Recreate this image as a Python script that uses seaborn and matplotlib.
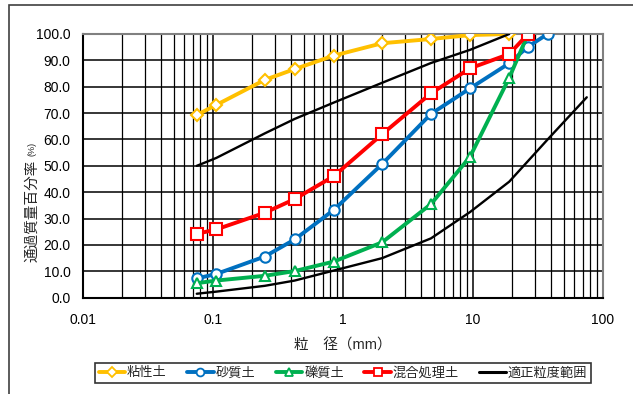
import matplotlib
matplotlib.use("Agg")
import matplotlib.pyplot as plt
import matplotlib.ticker as mticker
from matplotlib.lines import Line2D
from matplotlib.patches import Rectangle
import seaborn as sns
import pandas as pd

# ---- data ----
sieve = [0.075, 0.106, 0.25, 0.425, 0.85, 2, 4.75, 9.5, 19, 26.5, 37.5]

clay_x = [0.075, 0.106, 0.25, 0.425, 0.85, 2, 4.75, 9.5, 19]
clay_y = [69.3, 73.1, 82.6, 86.7, 91.8, 96.5, 98.1, 99.6, 100.0]

sand_x = [0.075, 0.106, 0.25, 0.425, 0.85, 2, 4.75, 9.5, 19, 26.5, 37.5]
sand_y = [7.3, 9.0, 15.6, 22.1, 33.3, 50.7, 69.7, 79.4, 88.9, 95.2, 100.0]

gravel_x = [0.075, 0.106, 0.25, 0.425, 0.85, 2, 4.75, 9.5, 19, 26.5]
gravel_y = [5.5, 6.5, 8.3, 10.1, 13.7, 21.0, 35.5, 53.5, 83.4, 100.0]

mixed_x = [0.075, 0.106, 0.25, 0.425, 0.85, 2, 4.75, 9.5, 19, 26.5]
mixed_y = [24.2, 25.9, 32.2, 37.4, 46.1, 62.0, 77.5, 87.0, 92.4, 100.0]

upper_x = [0.075, 0.106, 0.25, 0.425, 0.85, 2, 4.75, 9.5, 19]
upper_y = [50.0, 53.0, 62.3, 67.8, 74.0, 81.5, 89.0, 94.0, 100.0]

lower_x = [0.075, 0.106, 0.25, 0.425, 0.85, 2, 4.75, 9.5, 19, 37.5, 75]
lower_y = [1.5, 2.3, 4.5, 6.5, 10.3, 15.0, 22.5, 32.5, 44.0, 60.0, 76.0]

labels = ["粘性土", "砂質土", "礫質土", "混合処理土", "適正粒度範囲"]
colors = ["#FFC000", "#0070C0", "#00B050", "#FF0000", "#000000"]
markers = ["D", "o", "^", "s", None]
msizes = [6.5, 7.5, 7.5, 8.5, 0]

xticks = [0.01, 0.1, 1, 10, 100]
yticks = [0, 10, 20, 30, 40, 50, 60, 70, 80, 90, 100]

# ---- style ----
sns.set_theme(style="white")
plt.rcParams["font.family"] = ["Liberation Sans", "Noto Sans CJK JP", "DejaVu Sans"]

fig = plt.figure(figsize=(6.33, 3.94), dpi=100)
ax = fig.add_axes([83/633, 1-297.7/394, 520/633, 263.7/394])

series = [(clay_x, clay_y), (sand_x, sand_y), (gravel_x, gravel_y), (mixed_x, mixed_y)]
for i, (xs, ys) in enumerate(series):
    df = pd.DataFrame({"x": xs, "y": ys})
    sns.lineplot(data=df, x="x", y="y", ax=ax, color=colors[i], lw=2.8,
                 marker=markers[i], markersize=msizes[i], markerfacecolor="white",
                 markeredgecolor=colors[i], markeredgewidth=1.5, sort=False,
                 estimator=None, legend=False, zorder=3+i)
for xs, ys in [(upper_x, upper_y), (lower_x, lower_y)]:
    df = pd.DataFrame({"x": xs, "y": ys})
    sns.lineplot(data=df, x="x", y="y", ax=ax, color="black", lw=1.7,
                 sort=False, estimator=None, legend=False, zorder=8)

ax.set_xscale("log")
ax.set_xlim(0.01, 100)
ax.set_ylim(0, 100)
ax.set_xticks(xticks)
ax.xaxis.set_major_formatter(mticker.FuncFormatter(lambda v, p: f"{v:g}"))
ax.xaxis.set_minor_locator(mticker.LogLocator(base=10, subs=range(2, 10)))
ax.xaxis.set_minor_formatter(mticker.NullFormatter())
ax.set_yticks(yticks)
ax.yaxis.set_major_formatter(mticker.FuncFormatter(lambda v, p: f"{v:.1f}"))
ax.tick_params(axis="both", which="both", length=0, labelsize=10, colors="black")
ax.tick_params(axis="x", pad=11)
ax.tick_params(axis="y", pad=9)

ax.grid(True, which="major", axis="both", color="black", lw=1.1)
ax.grid(True, which="minor", axis="x", color="black", lw=0.9)
ax.set_axisbelow(True)

for s in ["top", "right"]:
    ax.spines[s].set_color("#808080")
    ax.spines[s].set_linewidth(1.5)
for s in ["left", "bottom"]:
    ax.spines[s].set_color("black")
    ax.spines[s].set_linewidth(1.5)

ax.set_xlabel("粒\u3000径（mm）", fontsize=10.5, labelpad=8)
ax.set_ylabel("")
fig.text(32/633, 1-211/394, "通過質量百分率", rotation=90, ha="center", va="center",
         fontsize=10.5)
fig.text(32/633, 1-149/394, "(%)", rotation=90, ha="center", va="center",
         fontsize=6.5)

handles = []
for i in range(5):
    if markers[i] is None:
        handles.append(Line2D([], [], color="black", lw=2.2))
    else:
        handles.append(Line2D([], [], color=colors[i], lw=2.8, marker=markers[i],
                              markersize=msizes[i]*0.75, markerfacecolor="white",
                              markeredgecolor=colors[i], markeredgewidth=1.3))
leg = fig.legend(handles, labels, loc="center", bbox_to_anchor=(343/633, 1-373/394),
                 ncol=5, frameon=True, fontsize=9.5, handlelength=2.0,
                 columnspacing=1.55, handletextpad=0.15, borderpad=0.25,
                 fancybox=False, edgecolor="black")
leg.get_frame().set_linewidth(1.2)

fig.patches.append(Rectangle((9/633, -0.1), 1.2, 1.1 - 5/394, transform=fig.transFigure,
                             fill=False, edgecolor="#404040", lw=1.2, clip_on=False))

fig.savefig("out.png", dpi=100)
